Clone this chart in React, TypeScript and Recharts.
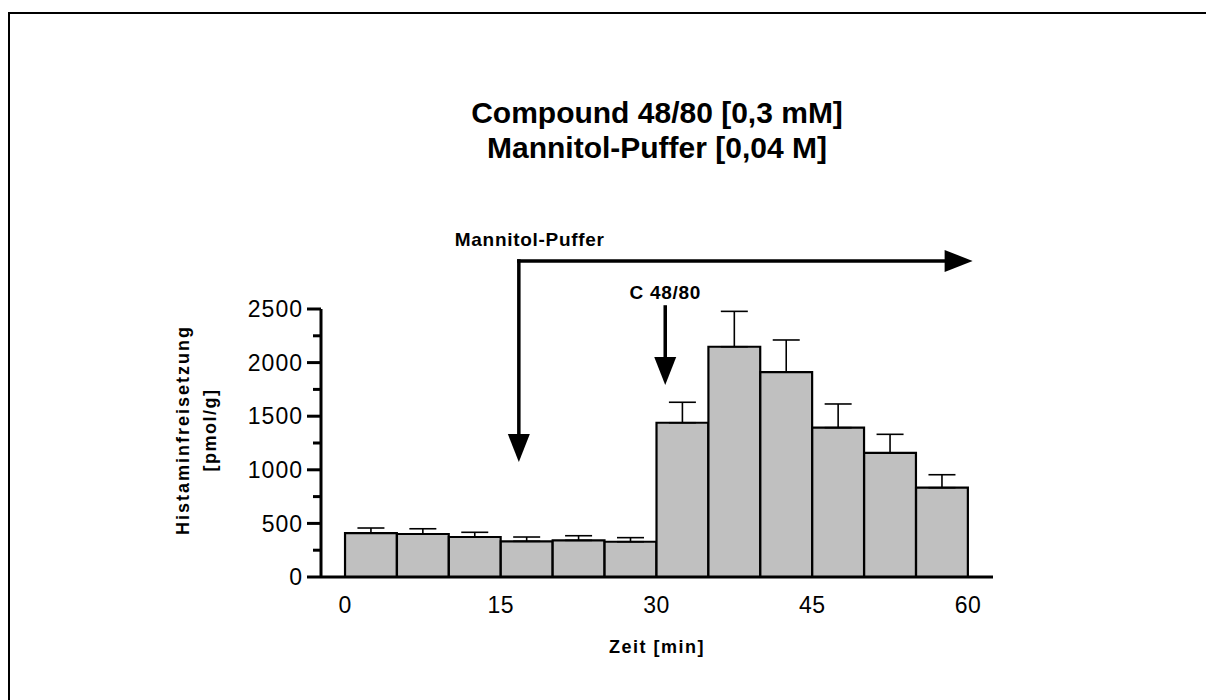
import React from 'react';
import { ComposedChart, Bar, ErrorBar, XAxis, YAxis, ReferenceLine } from 'recharts';

// midpoints of the 5-min collection intervals
const zeitMin = [2.5, 7.5, 12.5, 17.5, 22.5, 27.5, 32.5, 37.5, 42.5, 47.5, 52.5, 57.5];
const histamin = [410, 401, 373, 333, 342, 329, 1439, 2148, 1912, 1393, 1157, 833];
const sem = [47, 49, 44, 40, 43, 38, 191, 330, 299, 221, 174, 121];

const xTicks = [0, 15, 30, 45, 60];
const yTicks = [0, 250, 500, 750, 1000, 1250, 1500, 1750, 2000, 2250, 2500];

// annotation arrows (data units)
const mannitolStart = 16.74;
const mannitolEnd = 60.45;
const mannitolTop = 2948;
const mannitolTip = 1073;
const c4880At = 30.84;
const c4880Top = 2519;
const c4880Tip = 1791;

const FONT = '"Liberation Sans", Arial, Helvetica, sans-serif';

const chartData = zeitMin.map((t, i) => ({ t, value: histamin[i], err: [0, sem[i]] }));

const YTick = (props: any) => {
  const { x, y, payload } = props;
  const major = payload.value % 500 === 0;
  return (
    <g>
      <line x1={x - (major ? 14 : 8)} x2={x} y1={y} y2={y} stroke="#000" strokeWidth={3} />
      {major && (
        <text x={x - 18} y={y} dy="0.36em" textAnchor="end" fontSize={23} letterSpacing={1} fill="#000" fontFamily={FONT}>
          {payload.value}
        </text>
      )}
    </g>
  );
};

const arrow = (label?: { text: string; dx: number; dy: number; anchor: 'start' | 'middle' }) => (p: any) => {
  const { x1, y1, x2, y2 } = p;
  if (x1 == null || y1 == null) return <g />;
  const len = Math.hypot(x2 - x1, y2 - y1) || 1;
  const ux = (x2 - x1) / len;
  const uy = (y2 - y1) / len;
  const hx = x2 - ux * 28;
  const hy = y2 - uy * 28;
  const px = -uy * 11;
  const py = ux * 11;
  return (
    <g>
      <line x1={x1} y1={y1} x2={hx} y2={hy} stroke="#000" strokeWidth={3.5} strokeLinecap="square" />
      <polygon points={`${x2},${y2} ${hx + px},${hy + py} ${hx - px},${hy - py}`} fill="#000" />
      {label && (
        <text x={x1 + label.dx} y={y1 + label.dy} textAnchor={label.anchor} fontSize={19} letterSpacing={0.7} fontWeight="bold" fill="#000" fontFamily={FONT}>
          {label.text}
        </text>
      )}
    </g>
  );
};

export default function App() {
  return (
    <div style={{ position: 'absolute', left: 0, top: 0, width: 1206, height: 700, background: '#fff', fontFamily: FONT }}>
      <div style={{ position: 'absolute', left: 8, top: 12, width: 1198, height: 688, borderTop: '2px solid #000', borderLeft: '2px solid #000' }} />
      <ComposedChart
        width={1206}
        height={700}
        data={chartData}
        margin={{ top: 309, right: 213, bottom: 93, left: 261 }}
        barGap={0}
        barCategoryGap={0}
        style={{ position: 'absolute', left: 0, top: 0 }}
      >
        <XAxis
          dataKey="t"
          type="number"
          domain={[-2.315, 62.41]}
          ticks={xTicks}
          allowDataOverflow
          height={30}
          tickLine={false}
          tickSize={0}
          tickMargin={20}
          axisLine={{ stroke: '#000', strokeWidth: 3 }}
          tick={{ fontSize: 23, fill: '#000', fontFamily: FONT, letterSpacing: 0.5 }}
        />
        <YAxis
          type="number"
          domain={[0, 2500]}
          ticks={yTicks}
          interval={0}
          width={60}
          tickLine={false}
          tickSize={0}
          tickMargin={0}
          axisLine={{ stroke: '#000', strokeWidth: 3 }}
          tick={<YTick />}
        />
        <Bar dataKey="value" barSize={51.8} fill="#c0c0c0" stroke="#000" strokeWidth={2.2} isAnimationActive={false}>
          <ErrorBar dataKey="err" direction="y" width={13.5} stroke="#000" strokeWidth={1.6} isAnimationActive={false} />
        </Bar>
        <ReferenceLine
          segment={[{ x: mannitolStart, y: mannitolTop }, { x: mannitolEnd, y: mannitolTop }]}
          ifOverflow="visible"
          shape={arrow()}
        />
        <ReferenceLine
          segment={[{ x: mannitolStart, y: mannitolTop }, { x: mannitolStart, y: mannitolTip }]}
          ifOverflow="visible"
          shape={arrow({ text: 'Mannitol-Puffer', dx: -64, dy: -15, anchor: 'start' })}
        />
        <ReferenceLine
          segment={[{ x: c4880At, y: c4880Top }, { x: c4880At, y: c4880Tip }]}
          ifOverflow="visible"
          shape={arrow({ text: 'C 48/80', dx: 0, dy: -8, anchor: 'middle' })}
        />
      </ComposedChart>
      <svg width={1206} height={700} style={{ position: 'absolute', left: 0, top: 0, pointerEvents: 'none' }}>
        <text x={657} y={123} textAnchor="middle" fontSize={30} fontWeight="bold" fontFamily={FONT} fill="#000">
          Compound 48/80 [0,3 mM]
        </text>
        <text x={657} y={158} textAnchor="middle" fontSize={30} fontWeight="bold" fontFamily={FONT} fill="#000">
          Mannitol-Puffer [0,04 M]
        </text>
        <text transform="translate(189,430) rotate(-90)" textAnchor="middle" fontSize={18} letterSpacing={2} fontWeight="bold" fontFamily={FONT} fill="#000">
          Histaminfreisetzung
        </text>
        <text transform="translate(216,430) rotate(-90)" textAnchor="middle" fontSize={18} letterSpacing={1.5} fontWeight="bold" fontFamily={FONT} fill="#000">
          [pmol/g]
        </text>
        <text x={657} y={653} textAnchor="middle" fontSize={18} letterSpacing={1.5} fontWeight="bold" fontFamily={FONT} fill="#000">
          Zeit [min]
        </text>
      </svg>
    </div>
  );
}
